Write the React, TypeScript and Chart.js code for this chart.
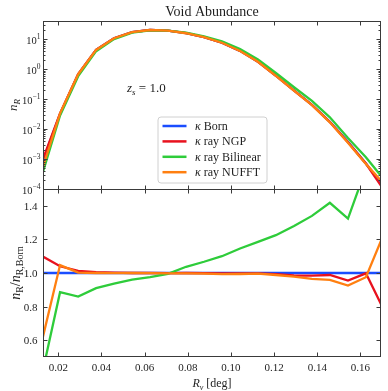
import React, { useEffect, useRef } from 'react';
import { Chart, registerables } from 'chart.js';
Chart.register(...registerables);

// ---- data ----
const radius = [0.0125, 0.0208, 0.0292, 0.0375, 0.0458, 0.0542, 0.0625, 0.0708, 0.0792, 0.0875, 0.0958, 0.1042, 0.1125, 0.1208, 0.1292, 0.1375, 0.1458, 0.1542, 0.1625, 0.1708];
const nBorn = [7.5e-4, 0.032, 0.68, 4.4, 10.8, 17.3, 20.4, 19.5, 15.9, 11.8, 7.7, 4.1, 1.78, 0.61, 0.195, 0.065, 0.0175, 0.0038, 7.1e-4, 1.2e-4];
const nNGP = [8.3e-4, 0.0333, 0.689, 4.42, 10.82, 17.3, 20.4, 19.48, 15.9, 11.79, 7.68, 4.09, 1.776, 0.606, 0.192, 0.064, 0.0173, 0.00363, 7.09e-4, 9.4e-5];
const nBilinear = [3.0e-4, 0.0284, 0.585, 4.0, 10.12, 16.6, 19.89, 19.4, 16.49, 12.59, 8.47, 4.7, 2.11, 0.747, 0.25, 0.0871, 0.0248, 0.00503, 0.00115, 2.1e-4];
const nNUFFT = [4.5e-4, 0.0335, 0.681, 4.4, 10.79, 17.3, 20.38, 19.46, 15.87, 11.75, 7.65, 4.08, 1.773, 0.603, 0.191, 0.0627, 0.0168, 0.00352, 6.9e-4, 1.48e-4];

const ratioBorn = [1, 1, 1, 1, 1, 1, 1, 1, 1, 1, 1, 1, 1, 1, 1, 1, 1, 1, 1, 1];
const ratioNGP = [1.1, 1.04, 1.013, 1.005, 1.002, 1.0, 1.0, 0.999, 1.0, 0.999, 0.998, 0.998, 0.998, 0.993, 0.985, 0.984, 0.988, 0.955, 0.998, 0.78];
const ratioBilinear = [0.4, 0.886, 0.86, 0.91, 0.937, 0.96, 0.975, 0.995, 1.037, 1.067, 1.1, 1.146, 1.185, 1.225, 1.28, 1.34, 1.418, 1.324, 1.62, 1.75];
const ratioNUFFT = [0.6, 1.047, 1.002, 1.0, 0.999, 1.0, 0.999, 0.998, 0.998, 0.996, 0.993, 0.994, 0.996, 0.988, 0.978, 0.965, 0.959, 0.925, 0.975, 1.233];

const seriesNames = ['Born', 'ray NGP', 'ray Bilinear', 'ray NUFFT'];
const seriesColors = ['#1a4dff', '#e8121e', '#2ecc3a', '#ff7f10'];

const xTicks = [0.02, 0.04, 0.06, 0.08, 0.1, 0.12, 0.14, 0.16];
const xTickLabels = ['0.02', '0.04', '0.06', '0.08', '0.10', '0.12', '0.14', '0.16'];
const topDecades = [-4, -3, -2, -1, 0, 1];
const topExpLabels = ['\u22124', '\u22123', '\u22122', '\u22121', '0', '1'];
const botTicks = [0.6, 0.8, 1.0, 1.2, 1.4];
const botTickLabels = ['0.6', '0.8', '1.0', '1.2', '1.4'];

const SERIF = "'Liberation Serif', 'DejaVu Serif', serif";
const TEXT = '#1e1e1e';

type Seg = { t: string; font: string; dy?: number; w?: number };
function drawRich(ctx: CanvasRenderingContext2D, segs: Seg[], x: number, y: number, align: 'left' | 'center' | 'right') {
  let total = 0;
  for (const s of segs) {
    ctx.font = s.font;
    s.w = ctx.measureText(s.t).width;
    total += s.w;
  }
  let cx = align === 'center' ? x - total / 2 : align === 'right' ? x - total : x;
  ctx.textAlign = 'left';
  ctx.textBaseline = 'alphabetic';
  for (const s of segs) {
    ctx.font = s.font;
    ctx.fillText(s.t, cx, y + (s.dy || 0));
    cx += s.w || 0;
  }
}

const decoPlugin = {
  id: 'deco',
  beforeDatasetDraw(chart: any, args: any) {
    const meta = args.meta;
    const ys = chart.scales[meta.yAxisID];
    const ca = chart.chartArea;
    const ctx = chart.ctx;
    ctx.save();
    ctx.beginPath();
    ctx.rect(ca.left, ys.top, ca.right - ca.left, ys.bottom - ys.top);
    ctx.clip();
  },
  afterDatasetDraw(chart: any) {
    chart.ctx.restore();
  },
  afterDraw(chart: any) {
    const ctx: CanvasRenderingContext2D = chart.ctx;
    const xs = chart.scales.x;
    const yT = chart.scales.yTop;
    const yB = chart.scales.yBot;
    const L = Math.round(chart.chartArea.left) + 0.5;
    const R = Math.round(chart.chartArea.right) - 0.5;
    const panels = [
      [Math.round(yT.top) + 0.5, Math.round(yT.bottom) + 0.5],
      [Math.round(yB.top) + 0.5, Math.round(yB.bottom) - 0.5],
    ];
    ctx.save();
    ctx.strokeStyle = '#3a3a3a';
    ctx.lineWidth = 1;
    for (const [t, b] of panels) {
      ctx.strokeRect(L, t, R - L, b - t);
    }
    ctx.beginPath();
    for (const v of xTicks) {
      const px = Math.round(xs.getPixelForValue(v)) + 0.5;
      for (const [t, b] of panels) {
        ctx.moveTo(px, t); ctx.lineTo(px, t + 4);
        ctx.moveTo(px, b); ctx.lineTo(px, b - 4);
      }
    }
    for (const d of topDecades) {
      for (let m = 1; m <= 9; m++) {
        const v = m * Math.pow(10, d);
        if (v < yT.min || v > yT.max) continue;
        const py = Math.round(yT.getPixelForValue(v)) + 0.5;
        const len = m === 1 ? 4 : 2;
        ctx.moveTo(L, py); ctx.lineTo(L + len, py);
        ctx.moveTo(R, py); ctx.lineTo(R - len, py);
      }
    }
    for (const v of botTicks) {
      const py = Math.round(yB.getPixelForValue(v)) + 0.5;
      ctx.moveTo(L, py); ctx.lineTo(L + 4, py);
      ctx.moveTo(R, py); ctx.lineTo(R - 4, py);
    }
    ctx.stroke();

    ctx.fillStyle = TEXT;
    const f11 = `11px ${SERIF}`;
    xTicks.forEach((v, i) => {
      drawRich(ctx, [{ t: xTickLabels[i], font: f11 }], xs.getPixelForValue(v), yB.bottom + 14, 'center');
    });
    topDecades.forEach((d, i) => {
      const py = yT.getPixelForValue(Math.pow(10, d));
      drawRich(ctx, [{ t: '10', font: `10.5px ${SERIF}` }, { t: topExpLabels[i], font: `7.5px ${SERIF}`, dy: -5 }], L - 3, py + 5, 'right');
    });
    botTicks.forEach((v, i) => {
      const py = yB.getPixelForValue(v);
      drawRich(ctx, [{ t: botTickLabels[i], font: f11 }], L - 6, py + 4, 'right');
    });

    const fi12 = `italic 12px ${SERIF}`;
    const fi8 = `italic 8px ${SERIF}`;
    const f12 = `12px ${SERIF}`;
    drawRich(ctx, [{ t: 'Void Abundance', font: `14px ${SERIF}` }], (L + R) / 2, 16, 'center');
    drawRich(ctx, [{ t: 'R', font: fi12 }, { t: 'v', font: fi8, dy: 2.5 }, { t: ' [deg]', font: f12 }], (L + R) / 2, 387, 'center');
    ctx.save();
    ctx.translate(17, (yT.top + yT.bottom) / 2);
    ctx.rotate(-Math.PI / 2);
    drawRich(ctx, [{ t: 'n', font: `italic 13px ${SERIF}` }, { t: 'R', font: `italic 9px ${SERIF}`, dy: 3 }], 0, 0, 'center');
    ctx.restore();
    ctx.save();
    ctx.translate(20, (yB.top + yB.bottom) / 2);
    ctx.rotate(-Math.PI / 2);
    drawRich(ctx, [
      { t: 'n', font: `italic 14px ${SERIF}` }, { t: 'R', font: `10px ${SERIF}`, dy: 3 }, { t: '/', font: `14px ${SERIF}` },
      { t: 'n', font: `italic 14px ${SERIF}` }, { t: 'R,Born', font: `10px ${SERIF}`, dy: 3 },
    ], 0, 0, 'center');
    ctx.restore();
    drawRich(ctx, [{ t: 'z', font: `italic 13px ${SERIF}` }, { t: 's', font: `italic 9px ${SERIF}`, dy: 2.5 }, { t: ' = 1.0', font: `13px ${SERIF}` }], 127, 92, 'left');

    // legend
    const bx = 158, by = 117, bw = 109, bh = 66;
    ctx.beginPath();
    const r = 3;
    ctx.moveTo(bx + r, by);
    ctx.arcTo(bx + bw, by, bx + bw, by + bh, r);
    ctx.arcTo(bx + bw, by + bh, bx, by + bh, r);
    ctx.arcTo(bx, by + bh, bx, by, r);
    ctx.arcTo(bx, by, bx + bw, by, r);
    ctx.closePath();
    ctx.fillStyle = 'rgba(255,255,255,0.85)';
    ctx.fill();
    ctx.strokeStyle = '#d0d0d0';
    ctx.lineWidth = 1;
    ctx.stroke();
    const rows = [126, 141.4, 156.8, 172.2];
    seriesNames.forEach((name, i) => {
      ctx.strokeStyle = seriesColors[i];
      ctx.lineWidth = 2.5;
      ctx.beginPath();
      ctx.moveTo(162.5, rows[i]);
      ctx.lineTo(186.5, rows[i]);
      ctx.stroke();
      ctx.fillStyle = TEXT;
      drawRich(ctx, [{ t: '\u03BA', font: `italic 12px ${SERIF}` }, { t: ' ' + name, font: f12 }], 195, rows[i] + 4, 'left');
    });
    ctx.restore();
  },
};

function pts(ys: number[]) {
  return radius.map((x, i) => ({ x, y: ys[i] }));
}

export default function App() {
  const ref = useRef<HTMLCanvasElement>(null);
  useEffect(() => {
    document.body.style.margin = '0';
    const canvas = ref.current!;
    const topSeries = [nBorn, nNGP, nBilinear, nNUFFT];
    const botSeries = [ratioBorn, ratioNGP, ratioBilinear, ratioNUFFT];
    const datasets: any[] = [];
    topSeries.forEach((s, i) => {
      datasets.push({
        label: 'top ' + seriesNames[i], data: pts(s), yAxisID: 'yTop',
        borderColor: seriesColors[i], borderWidth: 2.3, pointRadius: 0, tension: 0, fill: false, order: 4 - i,
      });
    });
    botSeries.forEach((s, i) => {
      datasets.push({
        label: 'bot ' + seriesNames[i], data: pts(s), yAxisID: 'yBot',
        borderColor: seriesColors[i], borderWidth: 2.3, pointRadius: 0, tension: 0, fill: false, order: 4 - i,
      });
    });
    const hidden = { grid: { display: false, drawTicks: false }, border: { display: false }, ticks: { display: false } };
    const chart = new Chart(canvas, {
      type: 'line',
      data: { datasets },
      plugins: [decoPlugin],
      options: {
        responsive: false,
        devicePixelRatio: 1,
        animation: false,
        layout: { padding: { top: 21, right: 7, left: 0, bottom: 0 } },
        plugins: { legend: { display: false }, tooltip: { enabled: false }, title: { display: false } },
        scales: {
          x: { type: 'linear', min: 0.0129, max: 0.1695, position: 'bottom', ...hidden, afterFit: (s: any) => { s.height = 34; } },
          yBot: { type: 'linear', position: 'left', stack: 'v', stackWeight: 1, min: 0.5, max: 1.5, ...hidden, afterFit: (s: any) => { s.width = 43; } },
          yTop: { type: 'logarithmic', position: 'left', stack: 'v', stackWeight: 1, min: 1e-4, max: 40.7, ...hidden, afterFit: (s: any) => { s.width = 43; } },
        },
      } as any,
    });
    return () => chart.destroy();
  }, []);
  return (
    <div style={{ width: 388, height: 391 }}>
      <canvas ref={ref} width={388} height={391} style={{ display: 'block' }} />
    </div>
  );
}
